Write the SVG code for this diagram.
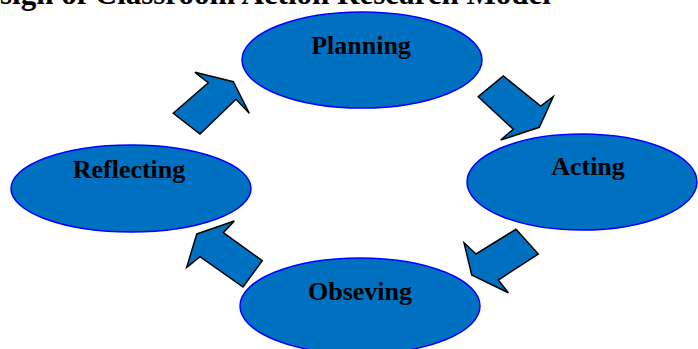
<svg xmlns="http://www.w3.org/2000/svg" width="698" height="349" viewBox="0 0 698 349">
<style>
.node ellipse{fill:#0070C0;stroke:#0000FF;stroke-width:1.5}
.lbl{font-family:"Liberation Serif","Times New Roman",serif;font-weight:bold;font-size:26px;fill:#000;text-anchor:middle}
.title{font-family:"Liberation Serif","Times New Roman",serif;font-weight:bold;font-size:31px;fill:#000}
.arrow{fill:#0070C0;stroke:#000;stroke-width:1.5;stroke-linejoin:miter}
</style>
<rect width="698" height="349" fill="#fff"/>
<text class="title" x="0" y="4">sign of Classroom Action Research Model</text>
<g id="planning" class="node">
<ellipse cx="362" cy="60" rx="120" ry="48"/>
<text class="lbl" x="361" y="54">Planning</text>
</g>
<g id="acting" class="node">
<ellipse cx="582" cy="182" rx="115" ry="48"/>
<text class="lbl" x="588" y="175">Acting</text>
</g>
<g id="obseving" class="node">
<ellipse cx="360" cy="306" rx="120" ry="48"/>
<text class="lbl" x="360" y="300">Obseving</text>
</g>
<g id="reflecting" class="node">
<ellipse cx="131" cy="188.5" rx="120" ry="43.5"/>
<text class="lbl" x="129" y="178">Reflecting</text>
</g>
<g id="connectors">
<polygon class="arrow" points="195,72.3 208.3,82.7 173.3,113.3 200,134 236,99.3 249.3,113.3 233.3,81.7"/>
<polygon class="arrow" points="478.3,96.7 503.3,76 540.7,106 553.3,96.7 539.3,127.3 500.7,140 513.3,129.3"/>
<polygon class="arrow" points="516,229.3 538.3,254 498.3,280 508.3,292.7 471.7,275 464,242.7 476,254"/>
<polygon class="arrow" points="196.7,234 234.3,221 223.3,232.7 262.3,260.7 243,287 200,256.7 186.7,267.3"/>
</g>
</svg>
